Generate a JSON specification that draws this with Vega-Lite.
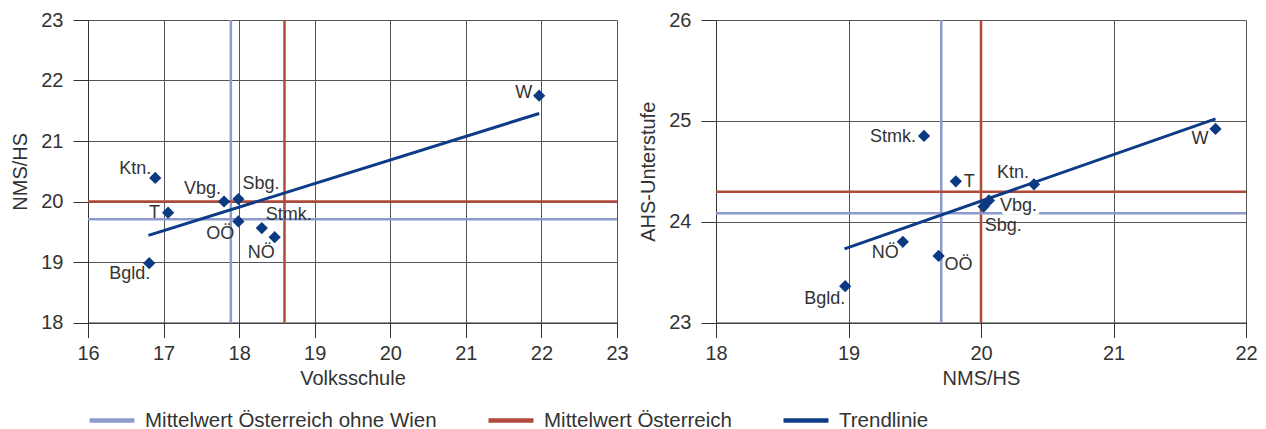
{
  "$schema": "https://vega.github.io/schema/vega-lite/v6.json",
  "background": "white",
  "padding": {"left": 10, "top": 10, "right": 5, "bottom": 5},
  "spacing": 9,
  "config": {
    "font": "Liberation Sans",
    "view": {"stroke": null},
    "axis": {
      "grid": true, "gridColor": "#555555", "gridWidth": 1, "gridOpacity": 1,
      "domainColor": "#333333", "domainWidth": 1,
      "tickColor": "#333333", "tickSize": 15, "tickWidth": 1,
      "labelFontSize": 20, "labelColor": "#333333", "labelFont": "Liberation Sans",
      "titleFontSize": 20, "titleColor": "#333333", "titleFontWeight": "normal", "titleFont": "Liberation Sans"
    },
    "axisX": {"labelPadding": 6, "titlePadding": 5},
    "axisY": {"labelPadding": 10, "titlePadding": 10}
  },
  "datasets": {
    "lp": [
      {"land": "W", "x": 21.97, "y": 21.75},
      {"land": "Ktn.", "x": 16.89, "y": 20.39},
      {"land": "Vbg.", "x": 17.80, "y": 20.00},
      {"land": "Sbg.", "x": 17.99, "y": 20.04},
      {"land": "T", "x": 17.06, "y": 19.815},
      {"land": "OÖ", "x": 17.99, "y": 19.67},
      {"land": "Stmk.", "x": 18.30, "y": 19.56},
      {"land": "NÖ", "x": 18.47, "y": 19.41},
      {"land": "Bgld.", "x": 16.81, "y": 18.98}
    ],
    "lv": [
      {"series": "Mittelwert Österreich ohne Wien", "x": 17.89},
      {"series": "Mittelwert Österreich", "x": 18.60}
    ],
    "lh": [
      {"series": "Mittelwert Österreich", "y": 20.0},
      {"series": "Mittelwert Österreich ohne Wien", "y": 19.705}
    ],
    "lt": [
      {"series": "Trendlinie", "x": 16.80, "y": 19.44},
      {"series": "Trendlinie", "x": 21.97, "y": 21.455}
    ],
    "rp": [
      {"land": "Stmk.", "x": 19.57, "y": 24.85},
      {"land": "T", "x": 19.81, "y": 24.40},
      {"land": "Ktn.", "x": 20.40, "y": 24.37},
      {"land": "Vbg.", "x": 20.06, "y": 24.21},
      {"land": "Sbg.", "x": 20.02, "y": 24.15},
      {"land": "W", "x": 21.77, "y": 24.92},
      {"land": "NÖ", "x": 19.41, "y": 23.80},
      {"land": "OÖ", "x": 19.68, "y": 23.66},
      {"land": "Bgld.", "x": 18.975, "y": 23.36}
    ],
    "rv": [
      {"series": "Mittelwert Österreich ohne Wien", "x": 19.70},
      {"series": "Mittelwert Österreich", "x": 20.0}
    ],
    "rh": [
      {"series": "Mittelwert Österreich", "y": 24.297},
      {"series": "Mittelwert Österreich ohne Wien", "y": 24.083}
    ],
    "rt": [
      {"series": "Trendlinie", "x": 18.97, "y": 23.73},
      {"series": "Trendlinie", "x": 21.77, "y": 25.02}
    ]
  },
  "hconcat": [
    {
      "width": 529,
      "height": 302.5,
      "layer": [
        {
          "data": {"name": "lv"},
          "mark": {"type": "rule", "strokeWidth": 2.5},
          "encoding": {
            "x": {"field": "x", "type": "quantitative", "scale": {"domain": [16, 23], "nice": false, "zero": false}, "axis": {"title": "Volksschule", "values": [16, 17, 18, 19, 20, 21, 22, 23], "labelFlush": false}},
            "color": {"field": "series", "type": "nominal", "scale": {"domain": ["Mittelwert Österreich ohne Wien", "Mittelwert Österreich", "Trendlinie"], "range": ["#8d9bcc", "#b04a39", "#0d3b85"]},
              "legend": {"orient": "none", "legendX": 12.5, "legendY": 389, "direction": "horizontal", "title": null,
                "symbolType": "M-2.5,0H2.5", "symbolStrokeWidth": 4.5, "symbolSize": 324,
                "labelFontSize": 20.5, "labelColor": "#333333", "labelFont": "Liberation Sans", "labelLimit": 600,
                "columnPadding": 42, "labelOffset": 21.5}}
          }
        },
        {
          "data": {"name": "lh"},
          "mark": {"type": "rule", "strokeWidth": 2.5},
          "encoding": {
            "y": {"field": "y", "type": "quantitative", "scale": {"domain": [18, 23], "nice": false, "zero": false}, "axis": {"title": "NMS/HS", "values": [18, 19, 20, 21, 22, 23]}},
            "color": {"field": "series", "type": "nominal", "scale": {"domain": ["Mittelwert Österreich ohne Wien", "Mittelwert Österreich", "Trendlinie"], "range": ["#8d9bcc", "#b04a39", "#0d3b85"]}}
          }
        },
        {
          "data": {"name": "lt"},
          "mark": {"type": "line", "strokeWidth": 3},
          "encoding": {
            "x": {"field": "x", "type": "quantitative", "scale": {"domain": [16, 23], "nice": false, "zero": false}, "axis": {"title": "Volksschule", "values": [16, 17, 18, 19, 20, 21, 22, 23], "labelFlush": false}},
            "y": {"field": "y", "type": "quantitative", "scale": {"domain": [18, 23], "nice": false, "zero": false}, "axis": {"title": "NMS/HS", "values": [18, 19, 20, 21, 22, 23]}},
            "color": {"field": "series", "type": "nominal", "scale": {"domain": ["Mittelwert Österreich ohne Wien", "Mittelwert Österreich", "Trendlinie"], "range": ["#8d9bcc", "#b04a39", "#0d3b85"]}}
          }
        },
        {
          "data": {"name": "lp"},
          "layer": [
            {"mark": {"type": "point", "shape": "diamond", "filled": true, "size": 150, "color": "#0b3a82", "opacity": 1}},
            {"transform": [{"filter": "datum.land === 'W'"}], "mark": {"type": "text", "align": "right", "baseline": "middle", "dx": -7, "dy": -3, "fontSize": 18, "color": "#333333"}},
            {"transform": [{"filter": "datum.land === 'Ktn.'"}], "mark": {"type": "text", "align": "right", "baseline": "middle", "dx": -4, "dy": -9, "fontSize": 18, "color": "#333333"}},
            {"transform": [{"filter": "datum.land === 'Vbg.'"}], "mark": {"type": "text", "align": "right", "baseline": "middle", "dx": -3, "dy": -13, "fontSize": 18, "color": "#333333"}},
            {"transform": [{"filter": "datum.land === 'Sbg.'"}], "mark": {"type": "text", "align": "left", "baseline": "middle", "dx": 4, "dy": -15, "fontSize": 18, "color": "#333333"}},
            {"transform": [{"filter": "datum.land === 'T'"}], "mark": {"type": "text", "align": "right", "baseline": "middle", "dx": -8, "dy": 0, "fontSize": 18, "color": "#333333"}},
            {"transform": [{"filter": "datum.land === 'Stmk.'"}], "mark": {"type": "text", "align": "left", "baseline": "middle", "dx": 4, "dy": -13, "fontSize": 18, "color": "#333333"}},
            {"transform": [{"filter": "datum.land === 'OÖ'"}], "mark": {"type": "text", "align": "right", "baseline": "middle", "dx": -4, "dy": 13, "fontSize": 18, "color": "#333333"}},
            {"transform": [{"filter": "datum.land === 'NÖ'"}], "mark": {"type": "text", "align": "right", "baseline": "middle", "dx": 0, "dy": 16, "fontSize": 18, "color": "#333333"}},
            {"transform": [{"filter": "datum.land === 'Bgld.'"}], "mark": {"type": "text", "align": "right", "baseline": "middle", "dx": 1, "dy": 11, "fontSize": 18, "color": "#333333"}}
          ],
          "encoding": {
            "x": {"field": "x", "type": "quantitative", "scale": {"domain": [16, 23], "nice": false, "zero": false}, "axis": {"title": "Volksschule", "values": [16, 17, 18, 19, 20, 21, 22, 23], "labelFlush": false}},
            "y": {"field": "y", "type": "quantitative", "scale": {"domain": [18, 23], "nice": false, "zero": false}, "axis": {"title": "NMS/HS", "values": [18, 19, 20, 21, 22, 23]}},
            "text": {"field": "land", "type": "nominal"}
          }
        }
      ]
    },
    {
      "width": 530,
      "height": 302.5,
      "layer": [
        {
          "data": {"name": "rv"},
          "mark": {"type": "rule", "strokeWidth": 2.5},
          "encoding": {
            "x": {"field": "x", "type": "quantitative", "scale": {"domain": [18, 22], "nice": false, "zero": false}, "axis": {"title": "NMS/HS", "values": [18, 19, 20, 21, 22], "labelFlush": false}},
            "color": {"field": "series", "type": "nominal", "scale": {"domain": ["Mittelwert Österreich ohne Wien", "Mittelwert Österreich", "Trendlinie"], "range": ["#8d9bcc", "#b04a39", "#0d3b85"]}}
          }
        },
        {
          "data": {"name": "rh"},
          "mark": {"type": "rule", "strokeWidth": 2.5},
          "encoding": {
            "y": {"field": "y", "type": "quantitative", "scale": {"domain": [23, 26], "nice": false, "zero": false}, "axis": {"title": "AHS-Unterstufe", "values": [23, 24, 25, 26]}},
            "color": {"field": "series", "type": "nominal", "scale": {"domain": ["Mittelwert Österreich ohne Wien", "Mittelwert Österreich", "Trendlinie"], "range": ["#8d9bcc", "#b04a39", "#0d3b85"]}}
          }
        },
        {
          "data": {"name": "rp"},
          "transform": [{"filter": "datum.land === 'Vbg.'"}],
          "mark": {"type": "text", "align": "left", "baseline": "middle", "dx": 11, "dy": 6, "fontSize": 18, "color": "white", "stroke": "white", "strokeWidth": 7},
          "encoding": {
            "x": {"field": "x", "type": "quantitative", "scale": {"domain": [18, 22], "nice": false, "zero": false}, "axis": {"title": "NMS/HS", "values": [18, 19, 20, 21, 22], "labelFlush": false}},
            "y": {"field": "y", "type": "quantitative", "scale": {"domain": [23, 26], "nice": false, "zero": false}, "axis": {"title": "AHS-Unterstufe", "values": [23, 24, 25, 26]}},
            "text": {"field": "land", "type": "nominal"}
          }
        },
        {
          "data": {"name": "rt"},
          "mark": {"type": "line", "strokeWidth": 3},
          "encoding": {
            "x": {"field": "x", "type": "quantitative", "scale": {"domain": [18, 22], "nice": false, "zero": false}, "axis": {"title": "NMS/HS", "values": [18, 19, 20, 21, 22], "labelFlush": false}},
            "y": {"field": "y", "type": "quantitative", "scale": {"domain": [23, 26], "nice": false, "zero": false}, "axis": {"title": "AHS-Unterstufe", "values": [23, 24, 25, 26]}},
            "color": {"field": "series", "type": "nominal", "scale": {"domain": ["Mittelwert Österreich ohne Wien", "Mittelwert Österreich", "Trendlinie"], "range": ["#8d9bcc", "#b04a39", "#0d3b85"]}}
          }
        },
        {
          "data": {"name": "rp"},
          "layer": [
            {"mark": {"type": "point", "shape": "diamond", "filled": true, "size": 150, "color": "#0b3a82", "opacity": 1}},
            {"transform": [{"filter": "datum.land === 'Stmk.'"}], "mark": {"type": "text", "align": "right", "baseline": "middle", "dx": -8, "dy": 1, "fontSize": 18, "color": "#333333"}},
            {"transform": [{"filter": "datum.land === 'T'"}], "mark": {"type": "text", "align": "left", "baseline": "middle", "dx": 8, "dy": 1, "fontSize": 18, "color": "#333333"}},
            {"transform": [{"filter": "datum.land === 'Ktn.'"}], "mark": {"type": "text", "align": "right", "baseline": "middle", "dx": -5, "dy": -11, "fontSize": 18, "color": "#333333"}},
            {"transform": [{"filter": "datum.land === 'Vbg.'"}], "mark": {"type": "text", "align": "left", "baseline": "middle", "dx": 11, "dy": 6, "fontSize": 18, "color": "#333333"}},
            {"transform": [{"filter": "datum.land === 'Sbg.'"}], "mark": {"type": "text", "align": "left", "baseline": "middle", "dx": 1, "dy": 19, "fontSize": 18, "color": "#333333"}},
            {"transform": [{"filter": "datum.land === 'W'"}], "mark": {"type": "text", "align": "right", "baseline": "middle", "dx": -7, "dy": 10, "fontSize": 18, "color": "#333333"}},
            {"transform": [{"filter": "datum.land === 'NÖ'"}], "mark": {"type": "text", "align": "right", "baseline": "middle", "dx": -4, "dy": 11, "fontSize": 18, "color": "#333333"}},
            {"transform": [{"filter": "datum.land === 'OÖ'"}], "mark": {"type": "text", "align": "left", "baseline": "middle", "dx": 6, "dy": 9, "fontSize": 18, "color": "#333333"}},
            {"transform": [{"filter": "datum.land === 'Bgld.'"}], "mark": {"type": "text", "align": "right", "baseline": "middle", "dx": 0, "dy": 13, "fontSize": 18, "color": "#333333"}}
          ],
          "encoding": {
            "x": {"field": "x", "type": "quantitative", "scale": {"domain": [18, 22], "nice": false, "zero": false}, "axis": {"title": "NMS/HS", "values": [18, 19, 20, 21, 22], "labelFlush": false}},
            "y": {"field": "y", "type": "quantitative", "scale": {"domain": [23, 26], "nice": false, "zero": false}, "axis": {"title": "AHS-Unterstufe", "values": [23, 24, 25, 26]}},
            "text": {"field": "land", "type": "nominal"}
          }
        }
      ]
    }
  ],
  "resolve": {"scale": {"color": "shared"}}
}
